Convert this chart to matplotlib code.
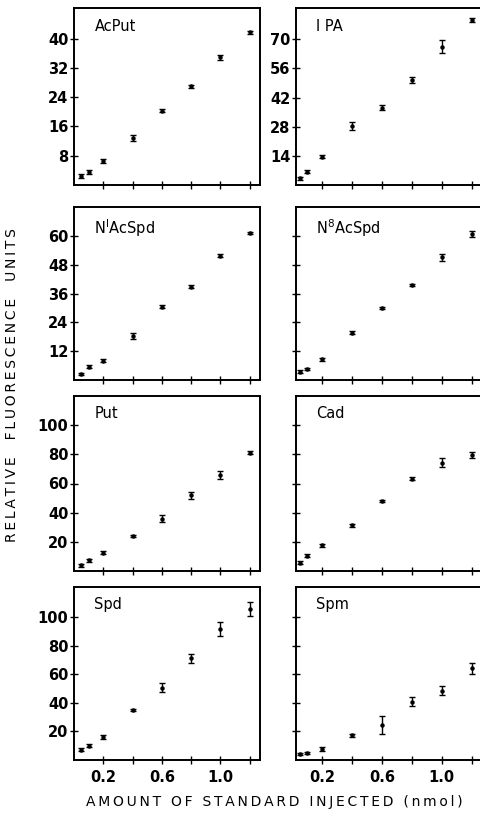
import matplotlib
matplotlib.use("Agg")
import matplotlib.pyplot as plt

# amount of standard injected (nmol)
amount = [0.05, 0.1, 0.2, 0.4, 0.6, 0.8, 1.0, 1.2]

# relative fluorescence units
acput = [2.5, 3.6, 6.6, 12.9, 20.3, 27.0, 34.9, 41.8]
acput_err = [0.5, 0.5, 0.5, 0.8, 0.4, 0.4, 0.7, 0.4]
ipa = [3.2, 6.4, 13.6, 28.4, 37.2, 50.5, 66.5, 79.3]
ipa_err = [0.8, 0.8, 0.7, 2.0, 1.0, 1.6, 3.0, 0.8]
n1acspd = [2.5, 5.5, 8.0, 18.3, 30.5, 38.8, 51.7, 61.2]
n1acspd_err = [0.6, 0.6, 0.6, 1.2, 0.6, 0.6, 0.6, 0.5]
n8acspd = [3.5, 4.6, 8.6, 19.7, 29.9, 39.6, 51.1, 60.7]
n8acspd_err = [0.5, 0.5, 0.6, 0.5, 0.5, 0.5, 1.5, 1.2]
put = [4.0, 7.4, 12.4, 24.0, 36.0, 52.0, 65.8, 81.0]
put_err = [1.0, 1.0, 1.0, 1.0, 2.5, 2.5, 2.5, 1.0]
cad = [5.7, 10.5, 17.8, 31.5, 48.0, 63.3, 74.3, 79.6]
cad_err = [1.0, 1.0, 1.0, 1.0, 1.0, 1.0, 3.0, 2.0]
spd = [7.2, 10.0, 16.2, 35.0, 50.6, 71.0, 91.8, 105.7]
spd_err = [1.0, 1.0, 1.2, 1.0, 3.0, 3.0, 5.0, 5.0]
spm = [4.4, 5.0, 7.8, 17.2, 24.5, 40.8, 48.5, 64.0]
spm_err = [0.6, 0.6, 1.2, 1.0, 6.0, 3.0, 3.0, 4.0]

panels = [
    ("AcPut", acput, acput_err, [8, 16, 24, 32, 40], 48.4),
    ("I PA", ipa, ipa_err, [14, 28, 42, 56, 70], 85),
    (r"N$^{\mathregular{I}}$AcSpd", n1acspd, n1acspd_err, [12, 24, 36, 48, 60], 72),
    (r"N$^{\mathregular{8}}$AcSpd", n8acspd, n8acspd_err, [12, 24, 36, 48, 60], 72),
    ("Put", put, put_err, [20, 40, 60, 80, 100], 120),
    ("Cad", cad, cad_err, [20, 40, 60, 80, 100], 120),
    ("Spd", spd, spd_err, [20, 40, 60, 80, 100], 121),
    ("Spm", spm, spm_err, [20, 40, 60, 80, 100], 121),
]

def spaced(s):
    # widen letter spacing like the typeset original
    return "\u2009".join(s)

W, H = 480, 819
fig = plt.figure(figsize=(W / 100, H / 100), dpi=100)

col_x = [74, 296]
row_y = [(8, 185), (207, 380), (396, 571), (587, 760)]
ax_w = 186

for i, (name, vals, errs, yticks, ytop) in enumerate(panels):
    r, c = divmod(i, 2)
    top, bot = row_y[r]
    ax = fig.add_axes([col_x[c] / W, 1 - bot / H, ax_w / W, (bot - top) / H])
    ax.errorbar(amount, vals, yerr=errs, fmt='o', color='black', ms=2.2,
                capsize=2.5, elinewidth=1.0, capthick=1.0)
    ax.set_xlim(0 if c == 0 else 0.025, 1.27)
    ax.set_ylim(0, ytop)
    ax.set_xticks([0.2, 0.4, 0.6, 0.8, 1.0, 1.2])
    ax.set_yticks(yticks)
    ax.tick_params(direction='inout', length=6, width=1.0, color='black')
    for s in ax.spines.values():
        s.set_linewidth(1.4)
    if r == 3:
        ax.set_xticklabels(['0.2', '', '0.6', '', '1.0', ''],
                           fontsize=10.5, fontweight='bold')
    else:
        ax.set_xticklabels([])
    if c == 0 or i == 1:
        ax.set_yticklabels([str(t) for t in yticks], fontsize=10.5,
                           fontweight='bold')
    else:
        ax.set_yticklabels([])
    ax.tick_params(axis='y', pad=1)
    ax.tick_params(axis='x', pad=4)
    ax.text(0.11, 0.94, name, transform=ax.transAxes, fontsize=10.5,
            va='top', ha='left')

fig.text(12 / W, 1 - 385 / H, spaced("RELATIVE  FLUORESCENCE  UNITS"),
         rotation=90, ha='center', va='center', fontsize=10)
fig.text(274 / W, 1 - 802 / H, spaced("AMOUNT OF STANDARD INJECTED (nmol)"),
         ha='center', va='center', fontsize=10)

fig.savefig("out.png", dpi=100)
